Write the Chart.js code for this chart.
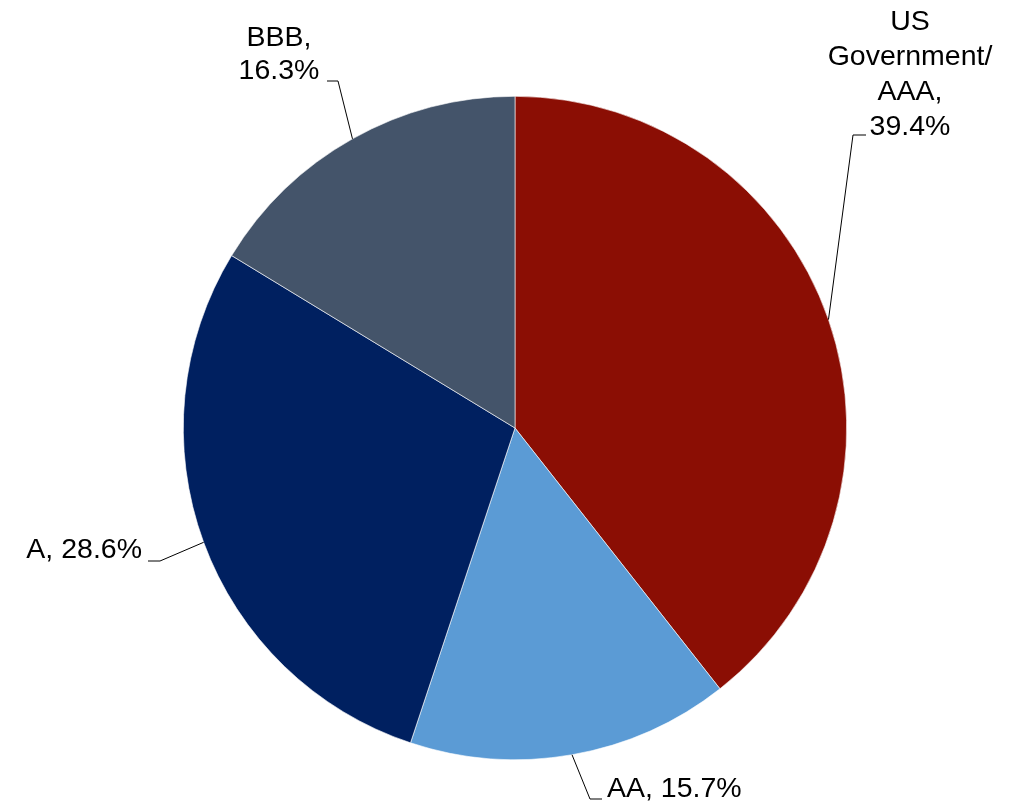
<!DOCTYPE html>
<html>
<head>
<meta charset="utf-8">
<script src="https://cdn.jsdelivr.net/npm/chart.js@4.4.0/dist/chart.umd.min.js"></script>
<style>
  html, body { margin: 0; padding: 0; background: #fff; }
  #wrap { width: 1026px; height: 805px; }
</style>
</head>
<body>
<div id="wrap"><canvas id="myChart" width="1026" height="805"></canvas></div>
<script>
const categories = ['US Government/AAA', 'AA', 'A', 'BBB'];
const shares = [39.4, 15.7, 28.6, 16.3];
const labelLines = [
    ['US', 'Government/', 'AAA,', '39.4%'],
    ['AA, 15.7%'],
    ['A, 28.6%'],
    ['BBB,', '16.3%']
];
const colors = ['#8B0E04', '#5B9BD5', '#002060', '#44546A'];

// where each callout text sits, and the elbow of its leader line
const callouts = [
    { elbow: [853, 135], tick: 13, align: 'center', x: 910, y: 22, lh: 35 },
    { elbow: [590, 799], tick: 12, align: 'left', x: 607, y: 789, lh: 35 },
    { elbow: [160, 561], tick: -12, align: 'right', x: 142, y: 550, lh: 35 },
    { elbow: [338, 81], tick: -11, align: 'center', x: 279, y: 38, lh: 33 }
];

const calloutPlugin = {
    id: 'callouts',
    afterDatasetsDraw(chart) {
        const c = chart.ctx;
        const arcs = chart.getDatasetMeta(0).data;
        c.save();
        c.strokeStyle = '#000';
        c.lineWidth = 1;
        c.fillStyle = '#000';
        c.font = '28.5px "Liberation Sans", Arial, sans-serif';
        c.textBaseline = 'middle';
        arcs.forEach((arc, i) => {
            const p = arc.getProps(['x', 'y', 'startAngle', 'endAngle', 'outerRadius'], true);
            const mid = (p.startAngle + p.endAngle) / 2;
            const ax = p.x + Math.cos(mid) * p.outerRadius;
            const ay = p.y + Math.sin(mid) * p.outerRadius;
            const o = callouts[i];
            c.beginPath();
            c.moveTo(ax, ay);
            c.lineTo(o.elbow[0], o.elbow[1]);
            c.lineTo(o.elbow[0] + o.tick, o.elbow[1]);
            c.stroke();
            c.textAlign = o.align;
            labelLines[i].forEach((t, k) => {
                c.fillText(t, o.x, o.y + k * o.lh);
            });
        });
        c.restore();
    }
};

const ctx = document.getElementById('myChart').getContext('2d');
new Chart(ctx, {
    type: 'pie',
    data: {
        labels: categories,
        datasets: [{
            data: shares,
            backgroundColor: colors,
            borderColor: '#ffffff',
            borderWidth: 0.6
        }]
    },
    options: {
        responsive: false,
        animation: false,
        layout: { padding: { top: 96, bottom: 45, left: 183, right: 179 } },
        plugins: {
            legend: { display: false },
            tooltip: { enabled: false }
        }
    },
    plugins: [calloutPlugin]
});
</script>
</body>
</html>
